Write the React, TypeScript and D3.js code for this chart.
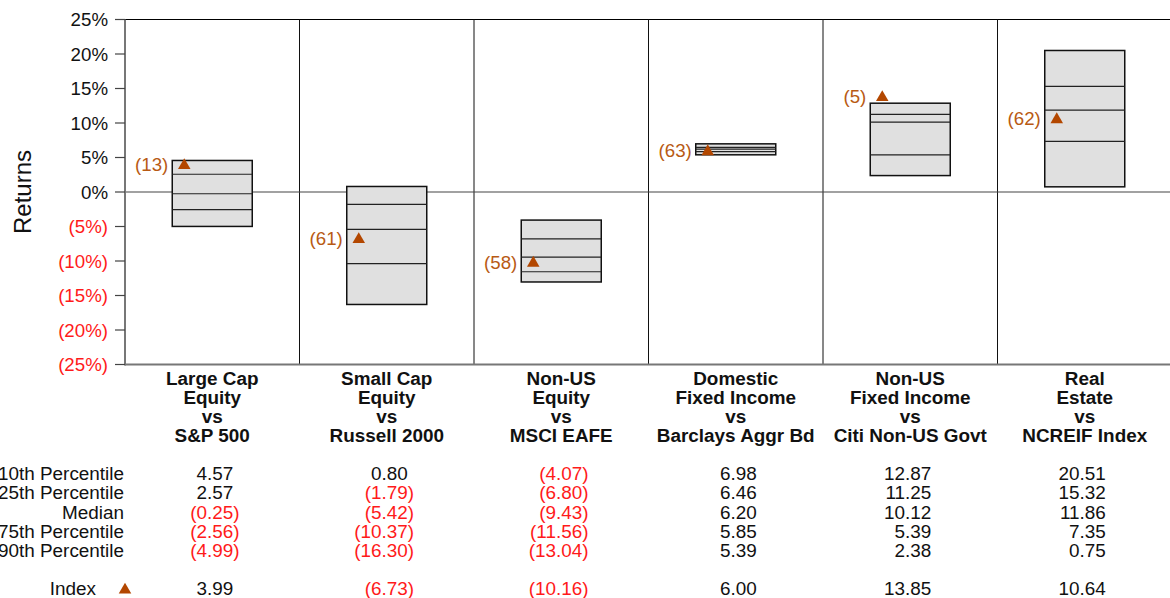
import * as d3 from "d3";
import { useEffect, useRef } from "react";

// percentile box data per asset class
const categories = [
  ["Large Cap", "Equity", "vs", "S&P 500"],
  ["Small Cap", "Equity", "vs", "Russell 2000"],
  ["Non-US", "Equity", "vs", "MSCI EAFE"],
  ["Domestic", "Fixed Income", "vs", "Barclays Aggr Bd"],
  ["Non-US", "Fixed Income", "vs", "Citi Non-US Govt"],
  ["Real", "Estate", "vs", "NCREIF Index"],
];
const p10 = [4.57, 0.8, -4.07, 6.98, 12.87, 20.51];
const p25 = [2.57, -1.79, -6.8, 6.46, 11.25, 15.32];
const median = [-0.25, -5.42, -9.43, 6.2, 10.12, 11.86];
const p75 = [-2.56, -10.37, -11.56, 5.85, 5.39, 7.35];
const p90 = [-4.99, -16.3, -13.04, 5.39, 2.38, 0.75];
const indexValues = [3.99, -6.73, -10.16, 6.0, 13.85, 10.64];
const ranks = [13, 61, 58, 63, 5, 62];
const yTicks = [25, 20, 15, 10, 5, 0, -5, -10, -15, -20, -25];
const rowLabels = [
  "10th Percentile",
  "25th Percentile",
  "Median",
  "75th Percentile",
  "90th Percentile",
];

const FONT = "'Liberation Sans', Arial, Helvetica, sans-serif";
const RED = "#ff1a1a";
const MARK = "#b34700";
const LABEL = "#b85a14";

export default function App() {
  const ref = useRef(null);
  const width = 1170;
  const height = 598;

  useEffect(() => {
    draw();
  });

  function draw() {
    const svg = d3.select(ref.current);
    // clean the slate
    svg.selectAll("*").remove();
    svg.attr("width", width).attr("height", height);

    const left = 125;
    const right = 1172;
    const top = 19.5;
    const bottom = 364.5;

    const keys = categories.map((c) => c.join(" "));
    const x = d3.scaleBand().domain(keys).range([left, right]).padding(0);
    const y = d3.scaleLinear().domain([-25, 25]).range([bottom, top]);
    const boxW = 80;

    // frame
    svg
      .append("line")
      .attr("x1", left)
      .attr("x2", right)
      .attr("y1", top)
      .attr("y2", top)
      .attr("stroke", "#000")
      .attr("stroke-width", 1);
    // column separators
    svg
      .append("g")
      .selectAll("line")
      .data(keys.slice(1))
      .enter()
      .append("line")
      .attr("x1", (d) => x(d)!)
      .attr("x2", (d) => x(d)!)
      .attr("y1", top)
      .attr("y2", bottom)
      .attr("stroke", "#111")
      .attr("stroke-width", 1);
    // zero line
    svg
      .append("line")
      .attr("x1", left)
      .attr("x2", right)
      .attr("y1", y(0))
      .attr("y2", y(0))
      .attr("stroke", "#444")
      .attr("stroke-width", 1.2);
    svg
      .append("line")
      .attr("x1", left)
      .attr("x2", right)
      .attr("y1", bottom)
      .attr("y2", bottom)
      .attr("stroke", "#777")
      .attr("stroke-width", 2);

    // y axis
    const yAxis = svg.append("g");
    yAxis
      .append("line")
      .attr("x1", left)
      .attr("x2", left)
      .attr("y1", top)
      .attr("y2", bottom + 1)
      .attr("stroke", "#777")
      .attr("stroke-width", 2);
    const ticks = yAxis.selectAll("g.tick").data(yTicks).enter().append("g");
    ticks
      .append("line")
      .attr("x1", left - 10)
      .attr("x2", left)
      .attr("y1", (d) => y(d))
      .attr("y2", (d) => y(d))
      .attr("stroke", "#444")
      .attr("stroke-width", 1.2);
    ticks
      .append("text")
      .attr("x", left - 17)
      .attr("y", (d) => y(d))
      .attr("dy", "0.35em")
      .attr("text-anchor", "end")
      .attr("font-family", FONT)
      .attr("font-size", 18.7)
      .attr("fill", (d) => (d < 0 ? RED : "#111"))
      .text((d) => (d < 0 ? "(" + -d + "%)" : d + "%"));

    // axis label
    svg
      .append("text")
      .attr("transform", "translate(31," + y(0) + ") rotate(-90)")
      .attr("text-anchor", "middle")
      .attr("font-family", FONT)
      .attr("font-size", 24)
      .attr("fill", "#111")
      .text("Returns");

    // boxes
    const boxes = svg
      .append("g")
      .selectAll("g")
      .data(keys)
      .enter()
      .append("g");
    boxes
      .append("rect")
      .attr("x", (d) => x(d)! + x.bandwidth() / 2 - boxW / 2)
      .attr("width", boxW)
      .attr("y", (_, i) => y(p10[i]))
      .attr("height", (_, i) => y(p90[i]) - y(p10[i]))
      .attr("fill", "#e0e0e0")
      .attr("stroke", "#111")
      .attr("stroke-width", 1.5);
    [p25, median, p75].forEach((arr) => {
      boxes
        .append("line")
        .attr("x1", (d) => x(d)! + x.bandwidth() / 2 - boxW / 2)
        .attr("x2", (d) => x(d)! + x.bandwidth() / 2 + boxW / 2)
        .attr("y1", (_, i) => y(arr[i]))
        .attr("y2", (_, i) => y(arr[i]))
        .attr("stroke", "#222")
        .attr("stroke-width", 1.2);
    });

    // index markers
    const tri = d3.symbol().type(d3.symbolTriangle).size(68);
    boxes
      .append("path")
      .attr("d", tri)
      .attr(
        "transform",
        (d, i) =>
          "translate(" +
          (x(d)! + x.bandwidth() / 2 - boxW / 2 + 12) +
          "," +
          (y(indexValues[i]) + 1) +
          ")"
      )
      .attr("fill", MARK);
    boxes
      .append("text")
      .attr("x", (d) => x(d)! + x.bandwidth() / 2 - boxW / 2 - 4)
      .attr("y", (_, i) => y(indexValues[i]))
      .attr("dy", "0.35em")
      .attr("text-anchor", "end")
      .attr("font-family", FONT)
      .attr("font-size", 18.7)
      .attr("fill", LABEL)
      .text((_, i) => "(" + ranks[i] + ")");

    // category labels
    categories.forEach((lines, i) => {
      const cx = x(keys[i])! + x.bandwidth() / 2;
      lines.forEach((t, j) => {
        svg
          .append("text")
          .attr("x", cx)
          .attr("y", 385 + j * 19)
          .attr("text-anchor", "middle")
          .attr("font-family", FONT)
          .attr("font-size", 18.9)
          .attr("font-weight", 700)
          .attr("fill", "#111")
          .text(t);
      });
    });

    // table rows
    const rowY = [480, 499.3, 518.6, 537.9, 557.2];
    const rows = [p10, p25, median, p75, p90];
    const tableText = (tx: number, ty: number, t: string, anchor: string, fill: string) =>
      svg
        .append("text")
        .attr("x", tx)
        .attr("y", ty)
        .attr("text-anchor", anchor)
        .attr("font-family", FONT)
        .attr("font-size", 18.9)
        .attr("fill", fill)
        .text(t);
    const valueCell = (cx: number, ty: number, v: number) => {
      const ex = cx + 21;
      if (v < 0) {
        tableText(ex, ty, "(" + (-v).toFixed(2), "end", RED);
        tableText(ex, ty, ")", "start", RED);
      } else {
        tableText(ex, ty, v.toFixed(2), "end", "#111");
      }
    };
    rows.forEach((arr, r) => {
      tableText(124, rowY[r], rowLabels[r], "end", "#111");
      arr.forEach((v, i) => {
        valueCell(x(keys[i])! + x.bandwidth() / 2, rowY[r], v);
      });
    });
    tableText(96, 595, "Index", "end", "#111");
    svg
      .append("path")
      .attr("d", tri)
      .attr("transform", "translate(125,590)")
      .attr("fill", MARK);
    indexValues.forEach((v, i) => {
      valueCell(x(keys[i])! + x.bandwidth() / 2, 595, v);
    });
  }

  return (
    <svg
      ref={ref}
      width={width}
      height={height}
      style={{ position: "absolute", left: 0, top: 0, background: "#fff" }}
    ></svg>
  );
}
